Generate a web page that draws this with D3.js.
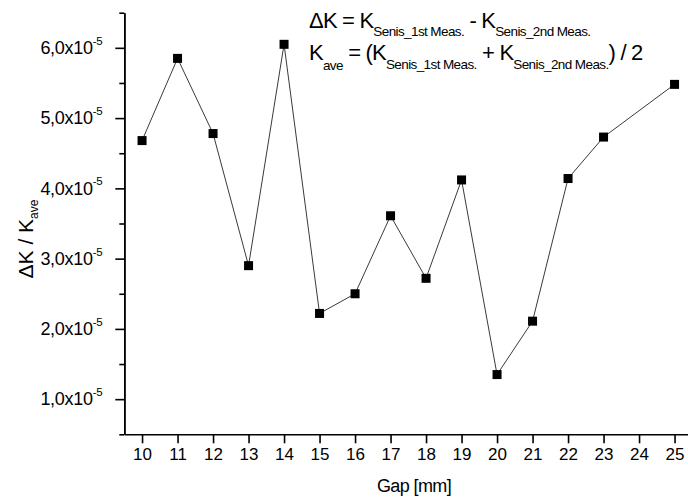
<!DOCTYPE html>
<html>
<head>
<meta charset="utf-8">
<script src="https://cdn.jsdelivr.net/npm/d3@7"></script>
<style>
  body { margin: 0; background: #fff; }
  svg { display: block; font-family: "Liberation Sans", Arial, sans-serif; }
</style>
</head>
<body>
<div class="canvas"></div>
<script>
// Data (values in units of 1e-5)
const gaps = [10, 11, 12, 13, 14, 15, 16, 17, 18, 19, 20, 21, 22, 23, 25];
const ratios = [4.68, 5.85, 4.78, 2.90, 6.05, 2.22, 2.50, 3.61, 2.72, 4.12, 1.35, 2.11, 4.14, 4.73, 5.48];
const xTicks = [10, 11, 12, 13, 14, 15, 16, 17, 18, 19, 20, 21, 22, 23, 24, 25];
const yTicks = [1, 2, 3, 4, 5, 6];
const yMinorTicks = [0.5, 1.5, 2.5, 3.5, 4.5, 5.5, 6.5];

const data = gaps.map((g, i) => ({gap: g, value: ratios[i]}));

const svgWidth = 688;
const svgHeight = 501;

const svg = d3.select('.canvas')
    .append('svg')
    .attr('width', svgWidth)
    .attr('height', svgHeight);

// Scales
const x = d3.scaleLinear().domain([9.5, 25.5]).range([124.3, 692.3]);
const y = d3.scaleLinear().domain([0.5, 6.5]).range([434.3, 12.7]);

// Line
const line = d3.line()
    .x(d => x(d.gap))
    .y(d => y(d.value));

svg.append('path')
    .datum(data)
    .attr('fill', 'none')
    .attr('stroke', '#3a3a3a')
    .attr('stroke-width', 1)
    .attr('d', line);

// Markers
const size = 9;
svg.selectAll('rect.pt')
    .data(data)
    .enter()
    .append('rect')
        .attr('class', 'pt')
        .attr('x', d => x(d.gap) - size / 2)
        .attr('y', d => y(d.value) - size / 2)
        .attr('width', size)
        .attr('height', size)
        .attr('fill', '#000');

// Axes
const xAxis = d3.axisBottom(x)
    .tickValues(xTicks)
    .tickSize(9)
    .tickSizeOuter(0)
    .tickPadding(5);

const xAxisGroup = svg.append('g')
    .attr('transform', `translate(0,${y.range()[0]})`)
    .call(xAxis);

xAxisGroup.selectAll('text')
    .attr('font-size', 17)
    .attr('font-family', '"Liberation Sans", Arial, sans-serif')
    .attr('fill', '#000');

const yMinor = d3.axisLeft(y)
    .tickValues(yMinorTicks)
    .tickSize(5)
    .tickSizeOuter(0)
    .tickFormat('');

svg.append('g')
    .attr('transform', `translate(${x.range()[0]},0)`)
    .call(yMinor);

const yAxis = d3.axisLeft(y)
    .tickValues(yTicks)
    .tickSize(9)
    .tickSizeOuter(0)
    .tickPadding(13)
    .tickFormat(d => d3.format('.1f')(d).replace('.', ',') + 'x10');

const yAxisGroup = svg.append('g')
    .attr('transform', `translate(${x.range()[0]},0)`)
    .call(yAxis);

yAxisGroup.selectAll('text')
    .attr('font-size', 18)
    .attr('letter-spacing', -0.3)
    .attr('font-family', '"Liberation Sans", Arial, sans-serif')
    .attr('fill', '#000')
    .append('tspan')
        .attr('font-size', 11.5)
        .attr('dy', '-0.8em')
        .text('-5');

svg.selectAll('.domain, .tick line')
    .attr('stroke', '#000')
    .attr('stroke-width', 1.6);

// Axis titles
svg.append('text')
    .attr('x', 414)
    .attr('y', 492)
    .attr('text-anchor', 'middle')
    .attr('font-size', 18)
    .attr('letter-spacing', -0.6)
    .text('Gap [mm]');

const yTitle = svg.append('text')
    .attr('transform', 'translate(33,239) rotate(-90)')
    .attr('text-anchor', 'middle')
    .attr('font-size', 21);
yTitle.append('tspan').text('ΔK / K');
yTitle.append('tspan').attr('font-size', 12).attr('dy', 5).text('ave');

// Formula annotation
const note = svg.append('g')
    .attr('transform', 'translate(309,0)');

const mainSize = 22, subSize = 13.5;

const l1 = note.append('text').attr('y', 28.3).attr('font-size', mainSize).attr('letter-spacing', -0.8);
l1.append('tspan').text('ΔK = K');
l1.append('tspan').attr('font-size', subSize).attr('letter-spacing', -0.6).attr('dy', 8).text('Senis_1st Meas.');
l1.append('tspan').attr('dy', -8).text(' - K');
l1.append('tspan').attr('font-size', subSize).attr('letter-spacing', -0.6).attr('dy', 8).text('Senis_2nd Meas.');

const l2 = note.append('text').attr('y', 60).attr('font-size', mainSize).attr('letter-spacing', -0.8);
l2.append('tspan').text('K');
l2.append('tspan').attr('font-size', subSize).attr('letter-spacing', -0.6).attr('dy', 10).text('ave');
l2.append('tspan').attr('dy', -10).text(' = (K');
l2.append('tspan').attr('font-size', subSize).attr('letter-spacing', -0.6).attr('dy', 9).text('Senis_1st Meas.');
l2.append('tspan').attr('dy', -9).text(' + K');
l2.append('tspan').attr('font-size', subSize).attr('letter-spacing', -0.6).attr('dy', 9).text('Senis_2nd Meas.');
l2.append('tspan').attr('dy', -9).text(') / 2');
</script>
</body>
</html>
